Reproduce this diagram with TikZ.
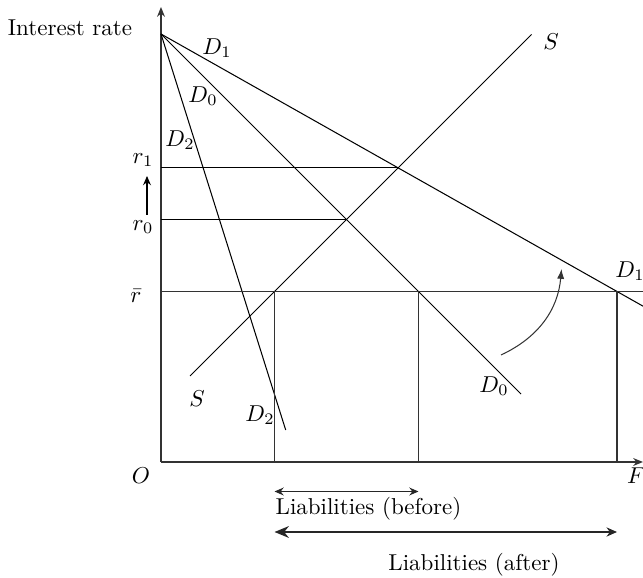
\documentclass[tikz,border=0pt]{standalone}
\usepackage{tikz}
\usetikzlibrary{arrows.meta,positioning}

\begin{document}
\begin{tikzpicture}[
  x=4.35pt, y=4.35pt,
  axis/.style={line width=0.8pt, draw=black!80},
  curve/.style={line width=0.45pt, draw=black},
  level/.style={line width=0.45pt, draw=black},
  floor/.style={line width=0.7pt, draw=black!80},
  axtip/.style={-{Stealth[length=1.5mm, width=1.2mm]}},
  span/.style={line width=0.6pt, draw=black!85, {Stealth[length=1.4mm, width=1.2mm]}-{Stealth[length=1.4mm, width=1.2mm]}},
  bigspan/.style={line width=0.8pt, draw=black!85, {Stealth[length=2.2mm, width=1.8mm]}-{Stealth[length=1.6mm, width=1.4mm]}},
  lbl/.style={inner sep=1pt}
]
\useasboundingbox (-16.1,-11.6) rectangle (48.2,46.2);

% axes
\coordinate (O) at (0,0);
\coordinate (ytop) at (0,45.5);
\coordinate (xend) at (48.2,0);
\draw[axis, axtip] (O) -- (ytop);
\draw[axis, axtip] (O) -- (xend);

% demand and supply curves
\coordinate (A) at (0,42.8);
\coordinate (d1end) at (49.5,14.85);
\coordinate (d0end) at (36,6.8);
\coordinate (d2end) at (12.47,3.2);
\coordinate (slow) at (2.9,8.6);
\coordinate (shigh) at (37.05,42.75);
\draw[curve] (A) -- (d1end);
\draw[curve] (A) -- (d0end);
\draw[curve] (A) -- (d2end);
\draw[curve] (slow) -- (shigh);

% equilibria
\coordinate (r1) at (0,29.41);
\coordinate (e1) at (23.71,29.41);
\coordinate (r0) at (0,24.25);
\coordinate (e0) at (18.55,24.25);
\draw[level] (r1) -- (e1);
\draw[level] (r0) -- (e0);

% floor rate and quantities
\coordinate (rb) at (0,17.05);
\coordinate (rbend) at (49.5,17.05);
\coordinate (qs) at (11.35,17.05);
\coordinate (q0) at (25.75,17.05);
\coordinate (q1) at (45.6,17.05);
\coordinate (qs0) at (11.35,0);
\coordinate (q00) at (25.75,0);
\coordinate (q10) at (45.6,0);
\draw[floor] (rb) -- (rbend);
\draw[floor] (qs) -- (qs0);
\draw[floor] (q0) -- (q00);
\draw[floor] (q1) -- (q10);

% shift of demand
\coordinate (shfrom) at (34.0,10.7);
\coordinate (shto) at (40.05,19.3);
\draw[line width=0.45pt, draw=black!80, -{Latex[length=1.5mm, width=1.1mm]}] (shfrom) to[out=25, in=-95] (shto);

% rate rise
\coordinate (upfrom) at (-1.4,24.7);
\coordinate (upto) at (-1.4,28.6);
\draw[line width=0.6pt, -{Stealth[length=1.4mm, width=1.2mm]}] (upfrom) -- (upto);

% liabilities
\coordinate (lbA) at (11.35,-2.95);
\coordinate (lbB) at (25.75,-2.95);
\coordinate (laA) at (11.35,-7.0);
\coordinate (laB) at (45.6,-7.0);
\draw[span] (lbA) -- (lbB);
\draw[bigspan] (laA) -- (laB);

% labels
\node[lbl] (yname) at (-9.1,43.4) {Interest rate};
\node[lbl] (ld1) at (5.6,41.4) {$D_1$};
\node[lbl] (ld0) at (4.2,36.6) {$D_0$};
\node[lbl] (ld2) at (1.9,32.2) {$D_2$};
\node[lbl] (lr1) at (-1.8,30.2) {$r_1$};
\node[lbl] (lr0) at (-1.8,23.5) {$r_0$};
\node[lbl] (lrb) at (-2.5,16.6) {$\bar{r}$};
\node[lbl] (ls1) at (39.0,42.0) {$S$};
\node[lbl] (ls0) at (3.6,6.35) {$S$};
\node[lbl] (ld2b) at (9.9,4.7) {$D_2$};
\node[lbl] (ld0b) at (33.3,7.6) {$D_0$};
\node[lbl] (ld1b) at (46.9,19.1) {$D_1$};
\node[lbl] (lo) at (-2.0,-1.4) {$O$};
\node[lbl] (lf) at (47.5,-1.4) {$F$};
\node[lbl] (lbtxt) at (20.75,-4.7) {Liabilities (before)};
\node[lbl] (latxt) at (31.3,-10.3) {Liabilities (after)};
\end{tikzpicture}
\end{document}
